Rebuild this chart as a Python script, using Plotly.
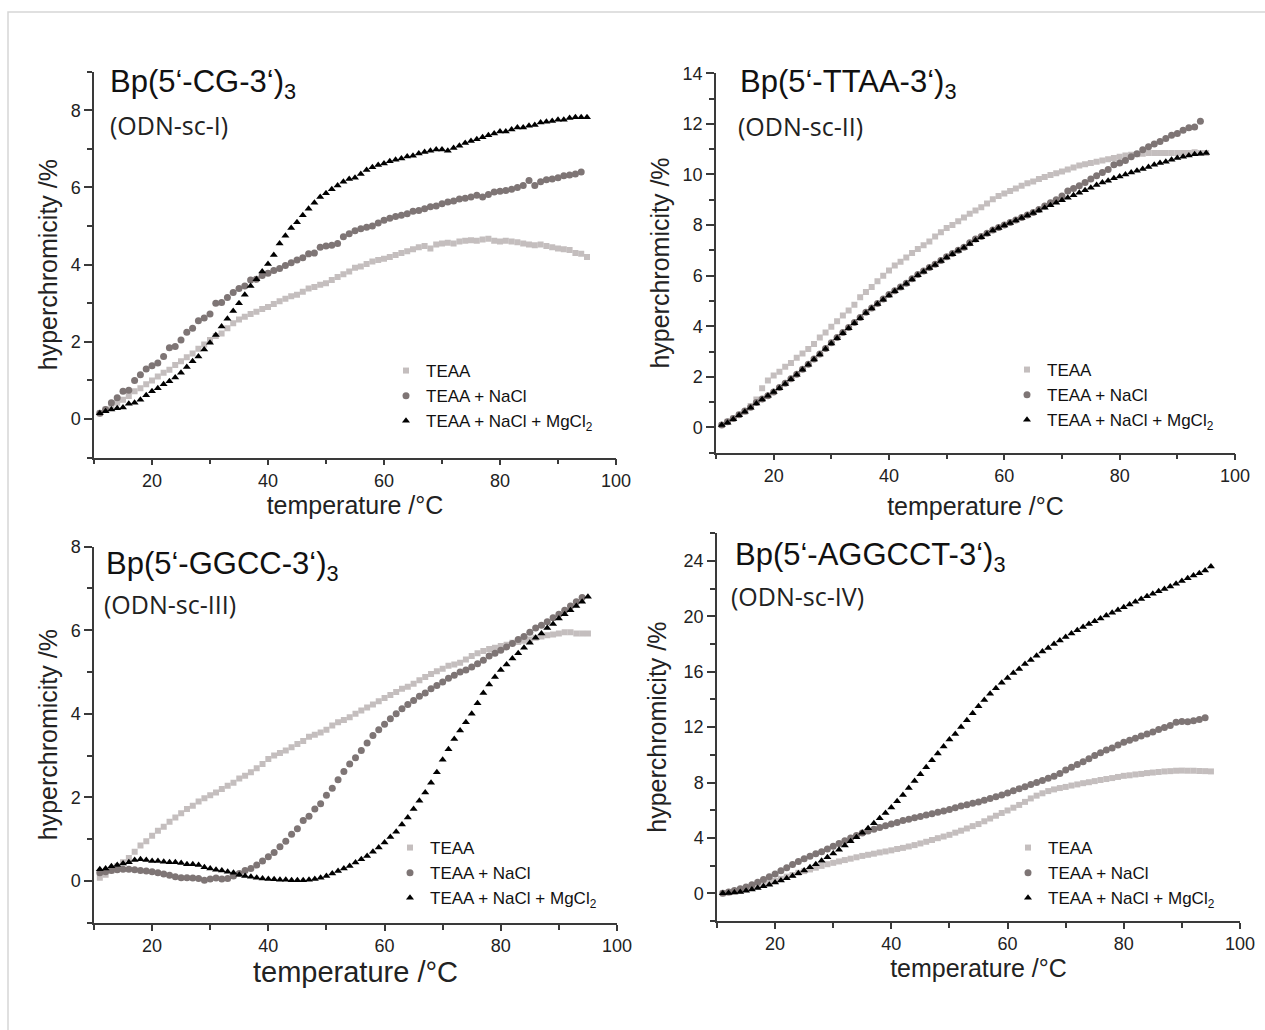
import plotly.graph_objects as go

# ---------------- data ----------------
TEMP = list(range(11, 96))          # 11 ... 95 °C, one reading per degree
TEMP_NACL = list(range(11, 95))     # NaCl series end at 94 °C

SERIES_NAMES = ["TEAA", "TEAA + NaCl", "TEAA + NaCl + MgCl<sub>2</sub>"]

P1_TEAA = [0.15,0.25,0.35,0.42,0.5,0.6,0.72,0.8,0.9,1.0,
           1.1,1.2,1.28,1.4,1.5,1.6,1.7,1.82,1.93,2.05,
           2.15,2.22,2.35,2.48,2.58,2.65,2.72,2.78,2.85,2.9,
           2.98,3.05,3.12,3.18,3.22,3.3,3.38,3.42,3.48,3.52,
           3.6,3.68,3.75,3.82,3.92,3.95,4.02,4.08,4.12,4.15,
           4.2,4.25,4.3,4.35,4.4,4.45,4.48,4.42,4.52,4.55,
           4.57,4.55,4.6,4.62,4.63,4.62,4.65,4.67,4.62,4.6,
           4.62,4.6,4.58,4.55,4.52,4.5,4.52,4.48,4.45,4.42,
           4.4,4.38,4.3,4.28,4.2]
P1_NACL = [0.15,0.25,0.42,0.55,0.72,0.75,1.0,1.15,1.3,1.38,
           1.45,1.62,1.85,1.88,2.05,2.25,2.35,2.55,2.62,2.72,
           3.0,3.02,3.15,3.28,3.38,3.45,3.6,3.62,3.72,3.78,
           3.85,3.9,3.98,4.05,4.12,4.18,4.28,4.3,4.45,4.48,
           4.5,4.55,4.72,4.8,4.88,4.93,4.97,5.0,5.08,5.15,
           5.2,5.25,5.28,5.32,5.38,5.4,5.45,5.5,5.52,5.58,
           5.62,5.65,5.7,5.72,5.75,5.8,5.75,5.82,5.88,5.9,
           5.92,5.95,6.0,6.05,6.18,6.05,6.15,6.2,6.22,6.25,
           6.3,6.32,6.35,6.4]
P1_MG = [0.15,0.2,0.25,0.28,0.3,0.4,0.42,0.5,0.62,0.72,
         0.8,0.9,0.98,1.08,1.2,1.35,1.5,1.62,1.8,1.98,
         2.18,2.4,2.6,2.8,3.0,3.22,3.45,3.62,3.82,4.02,
         4.25,4.55,4.75,4.95,5.1,5.28,5.45,5.6,5.75,5.85,
         5.95,6.05,6.15,6.22,6.25,6.35,6.45,6.52,6.58,6.62,
         6.68,6.72,6.75,6.8,6.82,6.88,6.92,6.95,6.98,6.98,
         6.95,7.02,7.08,7.15,7.2,7.25,7.3,7.35,7.4,7.45,
         7.45,7.5,7.55,7.55,7.6,7.62,7.68,7.7,7.72,7.75,
         7.75,7.8,7.82,7.82,7.82]

P2_TEAA = [0.1,0.22,0.35,0.5,0.62,0.85,1.1,1.55,1.85,2.05,
           2.2,2.4,2.55,2.75,2.92,3.1,3.3,3.55,3.75,3.98,
           4.2,4.42,4.62,4.85,5.15,5.35,5.55,5.78,6.0,6.2,
           6.4,6.55,6.72,6.9,7.05,7.2,7.35,7.55,7.72,7.88,
           8.0,8.15,8.3,8.45,8.58,8.7,8.85,9.02,9.15,9.25,
           9.35,9.45,9.55,9.65,9.72,9.82,9.9,9.98,10.05,10.12,
           10.2,10.28,10.35,10.4,10.45,10.5,10.55,10.6,10.65,10.7,
           10.75,10.78,10.8,10.82,10.85,10.85,10.85,10.85,10.85,10.85,
           10.85,10.85,10.88,10.85,10.85]
P2_NACL = [0.1,0.22,0.35,0.5,0.65,0.8,0.98,1.12,1.25,1.4,
           1.58,1.75,1.92,2.1,2.3,2.5,2.7,2.9,3.12,3.35,
           3.55,3.75,3.95,4.15,4.35,4.55,4.72,4.9,5.08,5.25,
           5.4,5.55,5.7,5.88,6.05,6.18,6.32,6.45,6.6,6.75,
           6.88,7.0,7.12,7.3,7.45,7.55,7.68,7.8,7.9,8.0,
           8.1,8.2,8.3,8.4,8.5,8.62,8.75,8.88,9.0,9.15,
           9.35,9.45,9.55,9.68,9.82,9.95,10.08,10.2,10.38,10.45,
           10.55,10.7,10.82,10.98,11.1,11.2,11.3,11.42,11.55,11.62,
           11.75,11.85,11.88,12.1]
P2_MG = [0.1,0.18,0.32,0.48,0.62,0.78,0.95,1.1,1.25,1.4,
         1.55,1.72,1.9,2.08,2.28,2.48,2.68,2.88,3.1,3.32,
         3.52,3.72,3.92,4.12,4.32,4.52,4.7,4.88,5.05,5.22,
         5.38,5.52,5.68,5.85,6.02,6.15,6.3,6.42,6.58,6.72,
         6.85,6.98,7.1,7.25,7.4,7.52,7.65,7.78,7.88,7.98,
         8.08,8.18,8.28,8.38,8.48,8.58,8.68,8.78,8.88,8.98,
         9.08,9.18,9.28,9.38,9.48,9.58,9.68,9.75,9.85,9.92,
         10.0,10.08,10.15,10.22,10.3,10.38,10.45,10.5,10.58,10.65,
         10.7,10.75,10.8,10.82,10.85]

P3_TEAA = [0.08,0.15,0.25,0.35,0.45,0.55,0.7,0.85,0.95,1.08,
           1.2,1.3,1.42,1.52,1.62,1.72,1.8,1.9,1.98,2.05,
           2.12,2.2,2.28,2.35,2.45,2.52,2.6,2.7,2.8,2.92,
           3.0,3.06,3.12,3.2,3.28,3.35,3.45,3.5,3.55,3.62,
           3.72,3.8,3.85,3.92,4.0,4.08,4.15,4.22,4.3,4.38,
           4.45,4.52,4.6,4.65,4.72,4.8,4.88,4.95,5.02,5.08,
           5.15,5.18,5.22,5.3,5.38,5.45,5.5,5.55,5.58,5.62,
           5.65,5.7,5.72,5.75,5.78,5.82,5.85,5.88,5.9,5.92,
           5.95,5.95,5.92,5.92,5.92]
P3_NACL = [0.2,0.22,0.25,0.27,0.28,0.28,0.27,0.25,0.24,0.22,
           0.2,0.17,0.14,0.1,0.08,0.08,0.07,0.06,0.02,0.05,
           0.07,0.05,0.06,0.12,0.18,0.25,0.3,0.38,0.48,0.58,
           0.68,0.82,0.95,1.12,1.25,1.45,1.55,1.72,1.85,2.05,
           2.22,2.42,2.62,2.8,2.95,3.12,3.3,3.48,3.62,3.75,
           3.88,4.0,4.12,4.22,4.32,4.42,4.5,4.6,4.68,4.76,
           4.85,4.92,5.0,5.05,5.12,5.2,5.28,5.38,5.45,5.52,
           5.6,5.68,5.78,5.85,5.95,6.05,6.12,6.2,6.3,6.38,
           6.48,6.58,6.68,6.78]
P3_MG = [0.28,0.3,0.35,0.38,0.42,0.45,0.5,0.52,0.5,0.48,
         0.48,0.46,0.45,0.45,0.43,0.4,0.4,0.38,0.33,0.3,
         0.27,0.25,0.22,0.2,0.15,0.12,0.1,0.08,0.06,0.05,
         0.04,0.03,0.03,0.02,0.02,0.02,0.03,0.05,0.08,0.12,
         0.18,0.24,0.3,0.36,0.44,0.52,0.6,0.7,0.8,0.92,
         1.05,1.18,1.35,1.52,1.72,1.92,2.12,2.35,2.6,2.9,
         3.15,3.4,3.6,3.8,4.0,4.25,4.5,4.7,4.88,5.05,
         5.18,5.32,5.45,5.58,5.7,5.82,5.92,6.05,6.15,6.28,
         6.38,6.48,6.58,6.68,6.8]

P4_TEAA = [0.0,0.05,0.12,0.2,0.3,0.42,0.52,0.65,0.78,0.9,
           1.05,1.2,1.32,1.48,1.6,1.72,1.85,1.98,2.1,2.2,
           2.3,2.4,2.5,2.6,2.7,2.78,2.86,2.95,3.02,3.1,
           3.2,3.28,3.38,3.48,3.6,3.72,3.85,3.98,4.1,4.22,
           4.38,4.52,4.68,4.85,5.0,5.2,5.4,5.6,5.8,5.98,
           6.18,6.38,6.6,6.85,7.05,7.22,7.38,7.5,7.6,7.68,
           7.78,7.86,7.95,8.02,8.1,8.18,8.25,8.32,8.4,8.48,
           8.52,8.58,8.62,8.68,8.72,8.76,8.8,8.82,8.85,8.86,
           8.85,8.85,8.83,8.82,8.8]
P4_NACL = [0.0,0.1,0.2,0.32,0.45,0.62,0.8,1.0,1.2,1.4,
           1.62,1.85,2.08,2.3,2.5,2.68,2.85,3.0,3.2,3.4,
           3.6,3.8,4.0,4.18,4.35,4.5,4.62,4.75,4.88,5.0,
           5.12,5.25,5.35,5.45,5.55,5.65,5.75,5.85,5.95,6.05,
           6.18,6.3,6.4,6.5,6.6,6.72,6.85,6.98,7.1,7.25,
           7.4,7.55,7.7,7.85,8.0,8.15,8.3,8.45,8.65,8.9,
           9.1,9.3,9.5,9.72,9.95,10.15,10.35,10.5,10.7,10.9,
           11.05,11.2,11.35,11.5,11.65,11.82,11.98,12.12,12.35,12.4,
           12.38,12.45,12.55,12.68]
P4_MG = [0.0,0.02,0.05,0.1,0.18,0.28,0.38,0.5,0.62,0.78,
         0.92,1.08,1.25,1.45,1.65,1.88,2.1,2.35,2.6,2.88,
         3.15,3.45,3.75,4.05,4.38,4.7,5.05,5.42,5.8,6.2,
         6.65,7.1,7.6,8.1,8.6,9.1,9.6,10.1,10.6,11.1,
         11.5,12.0,12.5,13.0,13.5,13.95,14.4,14.8,15.2,15.55,
         15.9,16.2,16.55,16.85,17.15,17.45,17.72,18.0,18.25,18.5,
         18.75,19.0,19.22,19.45,19.65,19.85,20.05,20.25,20.45,20.65,
         20.85,21.05,21.25,21.45,21.62,21.8,21.98,22.15,22.35,22.55,
         22.75,22.95,23.1,23.3,23.6]

TITLES = ["Bp(5‘-CG-3‘)<sub>3</sub>", "Bp(5‘-TTAA-3‘)<sub>3</sub>",
          "Bp(5‘-GGCC-3‘)<sub>3</sub>", "Bp(5‘-AGGCCT-3‘)<sub>3</sub>"]
SUBTITLES = ["(ODN-sc-I)", "(ODN-sc-II)", "(ODN-sc-III)", "(ODN-sc-IV)"]
X_TITLE = "temperature /°C"
Y_TITLE = "hyperchromicity /%"

PANEL_DATA = [(P1_TEAA, P1_NACL, P1_MG), (P2_TEAA, P2_NACL, P2_MG),
              (P3_TEAA, P3_NACL, P3_MG), (P4_TEAA, P4_NACL, P4_MG)]

# ---------------- styling / layout ----------------
W, H = 1265, 1030
FONT = "Liberation Sans, Arial, Helvetica, sans-serif"
SUBFONT = "Open Sans, Noto Sans, sans-serif"
AX = "#3a3a3a"
TXT = "#222222"
COLORS = ["#c4bebe", "#7e7575", "#000000"]
SYMBOLS = ["square", "circle", "triangle-up"]
SIZES = [6, 7, 7]

def px_x(p):
    return p / W

def px_y(p):
    return 1 - p / H

# pixel boxes of the four plot areas: (left, right, top, bottom)
BOXES = [(94, 616, 71.6, 457.7), (716, 1235, 73.3, 452.7),
         (94, 617, 546.6, 922.8), (717, 1240, 533.2, 921.0)]
YRANGES = [[-1, 9], [-1, 14], [-1, 8], [-2, 26]]
YDTICK = [2, 2, 2, 4]
XTITLE_SIZE = [25, 25, 29, 25]
XSTANDOFF = [6, 12, 0, 3]
YSTANDOFF = [6, 6, 6, 10]
TITLE_POS = [(108, 84), (738, 84), (104, 566), (733, 557)]
SUB_POS = [(108, 125), (736, 126), (102, 604), (729, 596)]
LEG_POS = [(386, 353), (1007, 352), (390, 830), (1008, 830)]

fig = go.Figure()
for k, series in enumerate(PANEL_DATA):
    xa = "x" if k == 0 else f"x{k+1}"
    ya = "y" if k == 0 else f"y{k+1}"
    leg = "legend" if k == 0 else f"legend{k+1}"
    for j, ys in enumerate(series):
        xs = TEMP if len(ys) == len(TEMP) else TEMP_NACL
        fig.add_trace(go.Scatter(
            x=xs, y=ys, mode="markers", name=SERIES_NAMES[j],
            xaxis=xa, yaxis=ya, legend=leg,
            marker=dict(symbol=SYMBOLS[j], size=SIZES[j], color=COLORS[j],
                        line=dict(width=0)),
        ))

layout = dict(
    width=W, height=H, margin=dict(l=0, r=0, t=0, b=0),
    paper_bgcolor="white", plot_bgcolor="white",
    font=dict(family=FONT, color=TXT),
    annotations=[], shapes=[],
)

for k in range(4):
    l, r, t, b = BOXES[k]
    sx = "" if k == 0 else str(k + 1)
    common = dict(showline=True, linecolor=AX, linewidth=1.5, ticks="outside",
                  tickcolor=AX, tickwidth=1.5, showgrid=False, zeroline=False,
                  automargin=False, tickfont=dict(size=18, color=TXT, family=FONT))
    layout["xaxis" + sx] = dict(
        common, domain=[px_x(l), px_x(r)], anchor="y" + sx, range=[10, 100],
        tick0=0, dtick=20, ticklen=6,
        minor=dict(tick0=0, dtick=10, ticks="outside", ticklen=5, tickwidth=1.5,
                   tickcolor=AX, showgrid=False),
        title=dict(text=X_TITLE, font=dict(size=XTITLE_SIZE[k], color=TXT, family=FONT),
                   standoff=XSTANDOFF[k]),
    )
    layout["yaxis" + sx] = dict(
        common, domain=[px_y(b), px_y(t)], anchor="x" + sx, range=YRANGES[k],
        tick0=0, dtick=YDTICK[k], ticklen=8,
        minor=dict(tick0=0, dtick=YDTICK[k] / 2, ticks="outside", ticklen=5,
                   tickwidth=1.5, tickcolor=AX, showgrid=False),
        title=dict(text=Y_TITLE, font=dict(size=25, color=TXT, family=FONT),
                   standoff=YSTANDOFF[k]),
    )
    lx, ly = LEG_POS[k]
    layout["legend" if k == 0 else f"legend{k+1}"] = dict(
        x=px_x(lx), y=px_y(ly), xanchor="left", yanchor="top",
        xref="paper", yref="paper",
        bgcolor="rgba(0,0,0,0)", borderwidth=0, tracegroupgap=0,
        font=dict(size=17, color="#111111", family=FONT),
    )
    tx, ty = TITLE_POS[k]
    layout["annotations"].append(dict(
        text=TITLES[k], x=px_x(tx), y=px_y(ty), xref="paper", yref="paper",
        xanchor="left", yanchor="middle", showarrow=False,
        font=dict(size=31, color="#111111", family=FONT)))
    sx_, sy_ = SUB_POS[k]
    layout["annotations"].append(dict(
        text=SUBTITLES[k], x=px_x(sx_), y=px_y(sy_), xref="paper", yref="paper",
        xanchor="left", yanchor="middle", showarrow=False,
        font=dict(size=25, color="#222222", family=SUBFONT)))

# thin grey frame of the figure
layout["shapes"].append(dict(type="rect", xref="paper", yref="paper",
                             x0=px_x(8), y0=-0.02, x1=1.02, y1=px_y(12),
                             line=dict(color="#d6d6d6", width=1.5)))

fig.update_layout(layout)
fig.write_html("out.html", config={"displayModeBar": False},
               post_script="document.body.style.margin='0';document.body.style.overflow='hidden';")
